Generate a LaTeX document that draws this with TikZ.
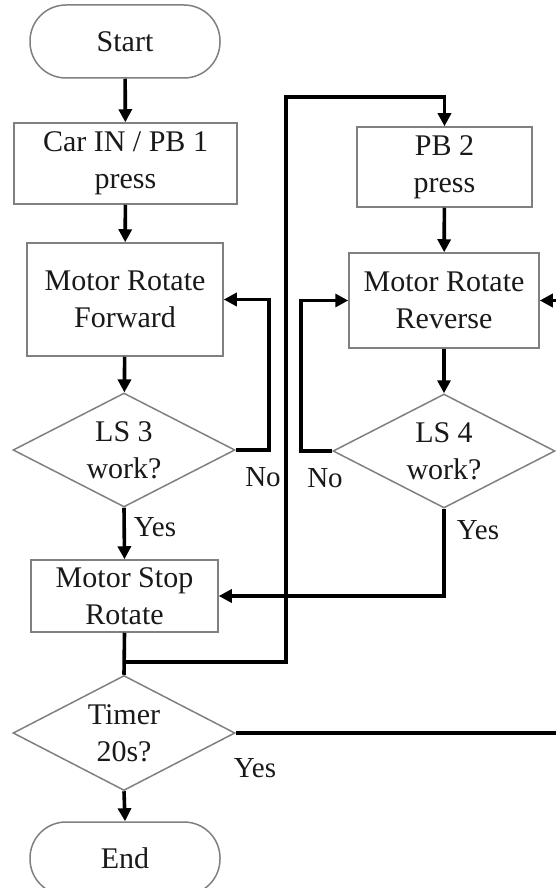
\documentclass[tikz,border=0pt]{standalone}
\usepackage{fontspec}
\setmainfont{Liberation Serif}
\usetikzlibrary{shapes.geometric,arrows.meta}
\begin{document}
\begin{tikzpicture}[x=1pt,y=-1pt,
  every node/.style={font=\fontsize{30}{37}\selectfont, align=center, text=black!90},
  boxframe/.style={draw=black!50, line width=1.5pt, rectangle, inner sep=0pt},
  procbox/.style={boxframe},
  termbox/.style={boxframe, minimum width=190pt, minimum height=73pt, rounded corners=36pt},
  decision/.style={draw=black!50, line width=1.5pt, diamond, inner sep=0pt,
    minimum width=222pt, minimum height=114pt},
  flow/.style={line width=3.6pt, black},
  flowarrow/.style={flow, -{Triangle[length=13pt,width=13pt]}},
  tag/.style={font=\fontsize{29}{34}\selectfont}
]
\useasboundingbox (0,0) rectangle (556,888);
\clip (0,0) rectangle (556,888);

% left column
\node[termbox] (start) at (125,41.5) {Start};
\node[procbox, minimum width=223pt, minimum height=81pt] (car) at (125.5,163.5) {Car IN / PB 1\\press};
\node[procbox, minimum width=196pt, minimum height=113pt] (fwd) at (125,299.5) {Motor Rotate\\Forward};
\node[decision] (ls3) at (124,450) {};
\node at (ls3) {LS 3\\work?};
\node[procbox, minimum width=187pt, minimum height=72pt] (stop) at (124.5,596) {Motor Stop\\Rotate};
\node[decision, minimum height=115pt] (timer) at (124,733) {};
\node at (timer) {Timer\\20s?};
\node[termbox] (end) at (125,858.5) {End};

% right column
\node[procbox, minimum width=175pt, minimum height=80pt] (pb2) at (444.5,167) {PB 2\\press};
\node[procbox, minimum width=190pt, minimum height=95pt] (rev) at (444,300.5) {Motor Rotate\\Reverse};
\node[decision] (ls4) at (444,451) {};
\node at (ls4) {LS 4\\work?};

% junctions and loose ends
\coordinate (join) at (124,662);
\coordinate (loopa) at (286,662);
\coordinate (loopb) at (286,97);
\coordinate (timerout) at (556,733);
\coordinate (revin) at (556,300.5);

% connectors
\draw[flowarrow] (start) -- (car);
\draw[flowarrow] (car) -- (fwd);
\draw[flowarrow] (fwd) -- (ls3);
\draw[flowarrow] (ls3.east) -- ++(33,0) |- (fwd.east);
\draw[flowarrow] (ls3.south) -- (stop.north);
\draw[flow] (stop.south) -- (timer.north);
\draw[flowarrow] (join) -- (loopa) -- (loopb) -| (pb2.north);
\draw[flowarrow] (pb2) -- (rev);
\draw[flowarrow] (rev) -- (ls4);
\draw[flowarrow] (ls4.west) -- ++(-31,0) |- (rev.west);
\draw[flowarrow] (ls4.south) |- (stop.east);
\draw[flow] (timer.east) -- (timerout);
\draw[flowarrow] (revin) -- (rev.east);
\draw[flowarrow] (timer.south) -- (end.north);

% branch labels
\node[tag] at (263,477) {No};
\node[tag] at (325,478) {No};
\node[tag] at (155,527) {Yes};
\node[tag] at (478,530) {Yes};
\node[tag] at (255,768) {Yes};
\end{tikzpicture}
\end{document}
